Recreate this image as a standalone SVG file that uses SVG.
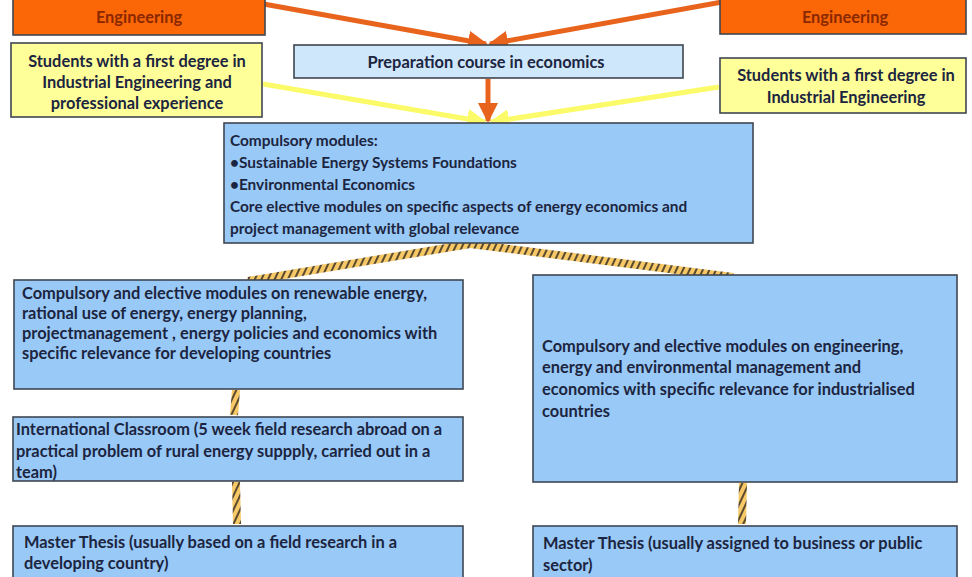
<svg xmlns="http://www.w3.org/2000/svg" width="972" height="577" viewBox="0 0 972 577">
<style>
text{font-family:Lato,"Liberation Sans",sans-serif;font-weight:bold;font-size:16.4px;fill:#1c2540}
.c{text-anchor:middle}
.s{font-size:15.4px}
.ot{fill:#8a2800}
.box{stroke:#3f4650;stroke-width:1.6}
.blue{fill:#99c9f7}
.pale{fill:#cfe7fb}
.yel{fill:#ffff99}
.org{fill:#fb6607}
.oa{stroke:#e8631c;stroke-width:5;fill:none;marker-end:url(#ao)}
.ya{stroke:#fbfb6a;stroke-width:5;fill:none;marker-end:url(#ay)}
.h{stroke:url(#hatch);stroke-width:8;fill:none}
</style>
<defs>
<marker id="ao" markerWidth="4" markerHeight="4" refX="3.6" refY="2" orient="auto" markerUnits="strokeWidth"><path d="M0,0 L4,2 L0,4 z" fill="#e8631c"/></marker>
<marker id="ay" markerWidth="4" markerHeight="4" refX="3.6" refY="2" orient="auto" markerUnits="strokeWidth"><path d="M0,0 L4,2 L0,4 z" fill="#fbfb6a"/></marker>
<pattern id="hatch" patternUnits="userSpaceOnUse" width="6" height="6" patternTransform="rotate(25)">
<rect width="6" height="6" fill="#f6c866"/>
<rect width="2" height="6" fill="#5a4a30"/>
</pattern>
</defs>
<rect width="972" height="577" fill="#ffffff"/>

<g id="connectors">
<path class="oa" d="M258,3 L486,44"/>
<path class="oa" d="M722,2 L490,44"/>
<path class="oa" d="M488,79 L488,121"/>
<path class="ya" d="M263,84 L485,122"/>
<path class="ya" d="M719,87 L491,122"/>
<path class="h" d="M248,281 L470,244 L733,277"/>
<path class="h" d="M236,390 L234,415"/>
<path class="h" d="M236,482 L237,524"/>
<path class="h" d="M743,483 L742,524"/>
</g>

<g id="eng-left">
<rect class="box org" x="13" y="-2" width="252" height="37"/>
<text class="c ot" x="139" y="23">Engineering</text>
</g>
<g id="eng-right">
<rect class="box org" x="720" y="-2" width="246" height="36"/>
<text class="c ot" x="845" y="23">Engineering</text>
</g>
<g id="students-left">
<rect class="box yel" x="11" y="43" width="251" height="74"/>
<text class="c" x="137" y="67">Students with a first degree in</text>
<text class="c" x="137" y="88">Industrial Engineering and</text>
<text class="c" x="137" y="109">professional experience</text>
</g>
<g id="students-right">
<rect class="box yel" x="720" y="58" width="246" height="55"/>
<text class="c" x="846" y="81">Students with a first degree in</text>
<text class="c" x="846" y="103">Industrial Engineering</text>
</g>
<g id="prep">
<rect class="box pale" x="294" y="45" width="389" height="33"/>
<text class="c" x="486" y="68">Preparation course in economics</text>
</g>
<g id="compulsory">
<rect class="box blue" x="224" y="123" width="529" height="120"/>
<text class="s" x="230" y="146">Compulsory modules:</text>
<text class="s" x="230" y="168">•Sustainable Energy Systems Foundations</text>
<text class="s" x="230" y="190">•Environmental Economics</text>
<text class="s" x="230" y="212">Core elective modules on specific aspects of energy economics and</text>
<text class="s" x="230" y="234">project management with global relevance</text>
</g>
<g id="developing">
<rect class="box blue" x="14" y="280" width="449" height="109"/>
<text x="22" y="299">Compulsory and elective modules on renewable energy,</text>
<text x="22" y="319">rational use of energy, energy planning,</text>
<text x="22" y="339">projectmanagement , energy policies and economics with</text>
<text x="22" y="359">specific relevance for developing countries</text>
</g>
<g id="classroom">
<rect class="box blue" x="13" y="417" width="450" height="64"/>
<text x="16" y="435">International Classroom (5 week field research abroad on a</text>
<text x="16" y="457">practical problem of rural energy suppply, carried out in a</text>
<text x="16" y="478">team)</text>
</g>
<g id="thesis-left">
<rect class="box blue" x="13" y="526" width="450" height="60"/>
<text x="24" y="548">Master Thesis (usually based on a field research in a</text>
<text x="24" y="569">developing country)</text>
</g>
<g id="industrialised">
<rect class="box blue" x="533" y="275" width="424" height="207"/>
<text x="542" y="352">Compulsory and elective modules on engineering,</text>
<text x="542" y="373">energy and environmental management and</text>
<text x="542" y="395">economics with specific relevance for industrialised</text>
<text x="542" y="417">countries</text>
</g>
<g id="thesis-right">
<rect class="box blue" x="533" y="526" width="424" height="60"/>
<text x="543" y="549">Master Thesis (usually assigned to business or public</text>
<text x="543" y="571">sector)</text>
</g>
</svg>
